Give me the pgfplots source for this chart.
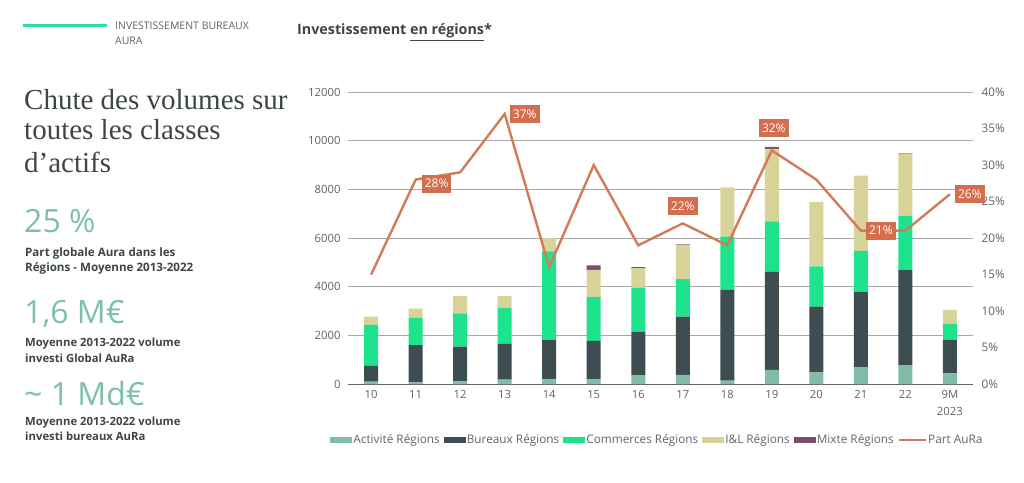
\documentclass[border=0pt]{standalone}
\usepackage{pgfplots}
\pgfplotsset{compat=1.18}
\usepackage{pgfplotstable}
\usepackage{fontspec}
\setmainfont{Open Sans}
\newfontfamily\seriffont{Liberation Serif}
\definecolor{act}{HTML}{80BCA8}
\definecolor{bur}{HTML}{3E4D51}
\definecolor{com}{HTML}{1EE38D}
\definecolor{inl}{HTML}{D8D398}
\definecolor{mix}{HTML}{7D4C6E}
\definecolor{part}{HTML}{D37B58}
\definecolor{lab}{HTML}{D36F4E}
\definecolor{txt}{HTML}{5E6466}
\definecolor{dark}{HTML}{3D4548}
\definecolor{tealbig}{HTML}{7CC0AA}
\definecolor{gridc}{HTML}{A8A8A8}
\definecolor{hdrgreen}{HTML}{2EE0A0}
\pgfplotsset{
  barleg/.style={legend image code/.code={\fill[##1] (0pt,-3pt) rectangle (22pt,3pt);}},
  lineleg/.style={legend image code/.code={\draw[##1] (0pt,0pt) -- (27pt,0pt);}},
}

% segments (not cumulative)
\pgfplotstableread{
x act bur com inl mix
0 100 650 1680 340 0
1 70 1530 1120 380 0
2 110 1430 1360 720 0
3 180 1480 1470 490 0
4 190 1610 3650 540 0
5 190 1580 1800 1120 190
6 360 1790 1810 800 40
7 380 2390 1540 1410 20
8 140 3730 2190 2020 0
9 580 4030 2070 2980 80
10 480 2700 1650 2650 0
11 690 3110 1670 3090 0
12 780 3900 2230 2560 20
13 440 1380 650 580 0
}\bars
\pgfplotstableread{
x part
0 15
1 28
2 29
3 37
4 16
5 30
6 19
7 22
8 19
9 32
10 28
11 21
12 21
13 26
}\partt

\begin{document}
\begin{tikzpicture}
\path[use as bounding box] (0pt,0pt) rectangle (1024pt,482pt);
% header
\draw[hdrgreen, line width=3pt] (23pt,456pt) -- (107pt,456pt);
\node[anchor=base west, inner sep=0pt, text=txt, font=\fontsize{10.5}{15}\selectfont] at (115pt,452pt) {INVESTISSEMENT BUREAUX};
\node[anchor=base west, inner sep=0pt, text=txt, font=\fontsize{10.5}{15}\selectfont] at (115pt,437pt) {AURA};
\node[anchor=base west, inner sep=0pt, text=dark, font=\bfseries\fontsize{14.3}{16}\selectfont] at (297pt,447pt) {Investissement \underline{en régions}*};
% left title
\node[anchor=base west, inner sep=0pt, text=dark, font=\seriffont\fontsize{29}{32}\selectfont] at (24pt,372pt) {Chute des volumes sur};
\node[anchor=base west, inner sep=0pt, text=dark, font=\seriffont\fontsize{29}{32}\selectfont] at (24pt,342pt) {toutes les classes};
\node[anchor=base west, inner sep=0pt, text=dark, font=\seriffont\fontsize{29}{32}\selectfont] at (24pt,309pt) {d’actifs};
% key figures
\node[anchor=base west, inner sep=0pt, text=tealbig, font=\fontsize{32}{34}\selectfont] at (24pt,249pt) {25 \%};
\node[anchor=base west, inner sep=0pt, text=dark, font=\bfseries\fontsize{11.6}{15}\selectfont] at (25pt,225pt) {Part globale Aura dans les};
\node[anchor=base west, inner sep=0pt, text=dark, font=\bfseries\fontsize{11.6}{15}\selectfont] at (25pt,210pt) {Régions - Moyenne 2013-2022};
\node[anchor=base west, inner sep=0pt, text=tealbig, font=\fontsize{32}{34}\selectfont] at (24pt,159pt) {1,6 M€};
\node[anchor=base west, inner sep=0pt, text=dark, font=\bfseries\fontsize{11.3}{15}\selectfont] at (25pt,136pt) {Moyenne 2013-2022 volume};
\node[anchor=base west, inner sep=0pt, text=dark, font=\bfseries\fontsize{11.3}{15}\selectfont] at (25pt,120pt) {investi Global AuRa};
\node[anchor=base west, inner sep=0pt, text=tealbig, font=\fontsize{32}{34}\selectfont] at (24pt,77pt) {\char`~\ 1 Md€};
\node[anchor=base west, inner sep=0pt, text=dark, font=\bfseries\fontsize{11.3}{15}\selectfont] at (25pt,57pt) {Moyenne 2013-2022 volume};
\node[anchor=base west, inner sep=0pt, text=dark, font=\bfseries\fontsize{11.3}{15}\selectfont] at (25pt,42pt) {investi bureaux AuRa};

\begin{axis}[
  at={(348pt,98pt)}, anchor=south west, scale only axis,
  width=625pt, height=292pt,
  xmin=-0.52, xmax=13.52, ymin=0, ymax=12000,
  ybar stacked, bar width=14pt,
  axis x line*=bottom, axis y line*=left,
  y axis line style={draw=none},
  x axis line style={draw=gridc!60!black, line width=1pt, -},
  major tick length=0pt,
  ymajorgrids, grid style={gridc, line width=0.8pt},
  ytick={0,2000,...,12000},
  scaled y ticks=false,
  yticklabel style={/pgf/number format/set thousands separator={}, /pgf/number format/assume math mode=true,
    font=\fontsize{11.3}{13}\selectfont, text=txt, xshift=-4pt},
  xtick={0,...,13},
  xticklabels={10,11,12,13,14,15,16,17,18,19,20,21,22,{9M\\2023}},
  xticklabel style={font=\fontsize{11.3}{17}\selectfont, text=txt, align=center, anchor=north, yshift=-3pt},
  legend columns=6,
  legend style={at={(0.4944,-0.191)}, anchor=center, draw=none, fill=none,
    font=\fontsize{11.8}{13}\selectfont, text=txt,
    /tikz/every even column/.append style={column sep=3pt},
    nodes={inner xsep=1pt, inner ysep=1pt}},
  legend cell align=left,
]
\addplot[fill=act, draw=none, barleg] table[x=x,y=act] {\bars};
\addplot[fill=bur, draw=none, barleg] table[x=x,y=bur] {\bars};
\addplot[fill=com, draw=none, barleg] table[x=x,y=com] {\bars};
\addplot[fill=inl, draw=none, barleg] table[x=x,y=inl] {\bars};
\addplot[fill=mix, draw=none, barleg] table[x=x,y=mix] {\bars};
\addlegendimage{draw=part, line width=2.4pt, lineleg}
\legend{Activité Régions, Bureaux Régions, Commerces Régions, I\&L Régions, Mixte Régions, Part AuRa}
\end{axis}

\begin{axis}[
  at={(348pt,98pt)}, anchor=south west, scale only axis,
  width=625pt, height=292pt,
  xmin=-0.52, xmax=13.52, ymin=0, ymax=40,
  axis y line*=right, axis x line=none,
  y axis line style={draw=none},
  major tick length=0pt, clip=false,
  ytick={0,5,...,40},
  yticklabel={\pgfmathprintnumber{\tick}\%},
  yticklabel style={font=\fontsize{11.8}{13}\selectfont, text=txt, xshift=5pt, /pgf/number format/assume math mode=true},
]
\addplot[part, line width=2.4pt, line join=miter, no marks] table[x=x,y=part] {\partt};
\begin{scope}[every node/.style={fill=lab, text=white, font=\fontsize{12}{13}\selectfont, inner xsep=3pt, inner ysep=4.5pt}]
\node[xshift=21pt, yshift=-4pt] at (axis cs:1,28) {28\%};
\node[xshift=20pt] at (axis cs:3,37) {37\%};
\node[yshift=17pt] at (axis cs:7,22) {22\%};
\node[xshift=2pt, yshift=22pt] at (axis cs:9,32) {32\%};
\node[xshift=20pt] at (axis cs:11,21) {21\%};
\node[xshift=20pt] at (axis cs:13,26) {26\%};
\end{scope}
\end{axis}
\end{tikzpicture}
\end{document}
